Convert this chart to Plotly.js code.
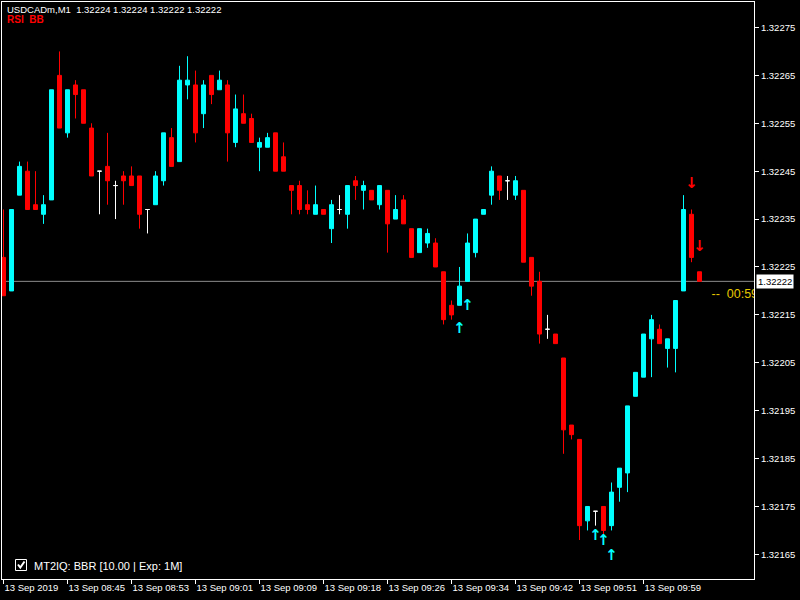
<!DOCTYPE html>
<html>
<head>
<meta charset="utf-8">
<script src="https://cdn.plot.ly/plotly-3.0.1.min.js"></script>
<style>html,body{margin:0;padding:0;background:#000;}#chart{width:800px;height:600px;}</style>
</head>
<body>
<div id="chart"></div>
<script>
// ---- data (USDCADm, M1) ----
const symbolName = "USDCADm,M1";
const indicatorLabel = "RSI  BB";
const panelLabel = "MT2IQ: BBR [10.00 | Exp: 1M]";
const timerLabel = "--\u00a0\u00a000:59";

const open = [
1.32227,1.32220,1.32240,1.32245,1.32238,1.32236,1.32239,1.32265,1.32253,1.32263,
1.32262,1.32254,1.32245,1.32246,1.32242,1.32244,1.32244,1.32244,1.32237,1.32238,
1.32243,1.32252,1.32247,1.32263,1.32263,1.32257,1.32265,1.32262,1.32263,1.32251,
1.32257,1.32256,1.32250,1.32250,1.32253,1.32248,1.32242,1.32242,1.32238,1.32236,
1.32237,1.32233,1.32237,1.32236,1.32243,1.32241,1.32241,1.32238,1.32241,1.32235,
1.32239,1.32233,1.32228,1.32230,1.32230,1.32224,1.32217,1.32217,1.32222,1.32228,
1.32236,1.32240,1.32244,1.32243,1.32240,1.32241,1.32227,1.32222,1.32212,1.32211,
1.32206,1.32192,1.32189,1.32172,1.32174,1.32175,1.32171,1.32179,1.32182,1.32198,
1.32202,1.32210,1.32212,1.32208,1.32208,1.32220,1.32236,1.32224];
const high = [
1.32237,1.32237,1.32247,1.32247,1.32245,1.32240,1.32262,1.32270,1.32262,1.32264,
1.32262,1.32255,1.32245,1.32253,1.32243,1.32245,1.32246,1.32244,1.32237,1.32245,
1.32253,1.32254,1.32267,1.32269,1.32266,1.32264,1.32265,1.32266,1.32264,1.32261,
1.32261,1.32257,1.32252,1.32253,1.32253,1.32251,1.32242,1.32243,1.32241,1.32242,
1.32237,1.32239,1.32240,1.32242,1.32244,1.32243,1.32241,1.32242,1.32241,1.32240,
1.32240,1.32233,1.32233,1.32233,1.32231,1.32224,1.32218,1.32225,1.32232,1.32235,
1.32237,1.32246,1.32244,1.32244,1.32244,1.32241,1.32227,1.32224,1.32215,1.32211,
1.32206,1.32192,1.32189,1.32175,1.32174,1.32175,1.32180,1.32183,1.32196,1.32203,
1.32211,1.32215,1.32213,1.32210,1.32218,1.32240,1.32237,1.32224];
const low = [
1.32219,1.32220,1.32240,1.32237,1.32237,1.32234,1.32239,1.32254,1.32252,1.32256,
1.32255,1.32244,1.32236,1.32238,1.32235,1.32238,1.32242,1.32233,1.32232,1.32238,
1.32242,1.32246,1.32247,1.32260,1.32251,1.32254,1.32259,1.32262,1.32247,1.32250,
1.32255,1.32251,1.32245,1.32250,1.32245,1.32245,1.32236,1.32236,1.32236,1.32236,
1.32236,1.32230,1.32236,1.32233,1.32239,1.32237,1.32239,1.32237,1.32228,1.32235,
1.32234,1.32227,1.32228,1.32229,1.32225,1.32213,1.32214,1.32217,1.32222,1.32227,
1.32236,1.32238,1.32239,1.32239,1.32239,1.32226,1.32219,1.32209,1.32210,1.32209,
1.32186,1.32189,1.32168,1.32170,1.32171,1.32169,1.32170,1.32176,1.32178,1.32198,
1.32202,1.32202,1.32209,1.32204,1.32203,1.32220,1.32226,1.32222];
const close = [
1.32219,1.32237,1.32246,1.32237,1.32237,1.32238,1.32262,1.32254,1.32262,1.32261,
1.32255,1.32244,1.32245,1.32243,1.32242,1.32243,1.32242,1.32236,1.32237,1.32244,
1.32253,1.32246,1.32264,1.32264,1.32253,1.32263,1.32261,1.32264,1.32253,1.32258,
1.32255,1.32251,1.32251,1.32252,1.32245,1.32245,1.32241,1.32237,1.32237,1.32238,
1.32236,1.32238,1.32237,1.32242,1.32242,1.32242,1.32239,1.32242,1.32234,1.32237,
1.32234,1.32227,1.32233,1.32232,1.32225,1.32214,1.32215,1.32221,1.32230,1.32235,
1.32237,1.32245,1.32241,1.32243,1.32243,1.32226,1.32221,1.32211,1.32212,1.32209,
1.32191,1.32190,1.32171,1.32175,1.32174,1.32170,1.32178,1.32183,1.32196,1.32203,
1.32211,1.32214,1.32209,1.32210,1.32218,1.32237,1.32227,1.32222];

// signal arrows (bar index, price)
const buyBars = [57, 58, 74, 75, 76];
const buyPrices = [1.322119, 1.322169, 1.321688, 1.321678, 1.321647];
const sellBars = [86, 87];
const sellPrices = [1.322423, 1.322292];

// time axis labels (every 8th bar)
const tickBars = [0, 8, 16, 24, 32, 40, 48, 56, 64, 72, 80];
const tickLabels = ["13 Sep 2019","13 Sep 08:45","13 Sep 08:53","13 Sep 09:01","13 Sep 09:09",
  "13 Sep 09:18","13 Sep 09:26","13 Sep 09:34","13 Sep 09:42","13 Sep 09:51","13 Sep 09:59"];
const priceTicks = [1.32165,1.32175,1.32185,1.32195,1.32205,1.32215,1.32225,1.32235,1.32245,1.32255,1.32265,1.32275];

// ---- build ----
const N = open.length;
const idx = open.map((_, i) => i);
function pick(cond) {
  const s = {x: [], o: [], h: [], l: [], c: []};
  idx.forEach(i => { if (cond(i)) { s.x.push(i); s.o.push(open[i]); s.h.push(high[i]); s.l.push(low[i]); s.c.push(close[i]); } });
  return s;
}
function candle(s, col) {
  return {type: 'candlestick', x: s.x, open: s.o, high: s.h, low: s.l, close: s.c,
    increasing: {line: {color: col, width: 1}, fillcolor: col},
    decreasing: {line: {color: col, width: 1}, fillcolor: col},
    whiskerwidth: 0, hoverinfo: 'skip', showlegend: false};
}
const bull = pick(i => close[i] > open[i]);
const bear = pick(i => close[i] < open[i]);
const doji = pick(i => close[i] === open[i]);

const FONT = "Liberation Sans, Arial, sans-serif";
const lastClose = close[N - 1];

const arrowFont = (c) => ({family: 'DejaVu Sans, sans-serif', size: 15, color: c, weight: 'bold'});
const traces = [
  candle(bull, '#00FFFF'),
  candle(bear, '#FF0000'),
  candle(doji, '#FFFFFF'),
  {type: 'scatter', mode: 'text', x: buyBars, y: buyPrices, text: buyBars.map(() => '\u2191'),
   textfont: arrowFont('#00FFFF'), textposition: 'middle center',
   hoverinfo: 'skip', showlegend: false},
  {type: 'scatter', mode: 'text', x: sellBars, y: sellPrices, text: sellBars.map(() => '\u2193'),
   textfont: arrowFont('#FF0000'), textposition: 'middle center',
   hoverinfo: 'skip', showlegend: false},
  {type: 'scatter', mode: 'text', x: [N - 1 + 1.5], y: [lastClose - 0.0000284], text: [timerLabel],
   textfont: {family: FONT, size: 12.5, color: '#E6C800'}, textposition: 'middle right', cliponaxis: true,
   hoverinfo: 'skip', showlegend: false}
];

// pixel helpers for decorations
const L = 2, R = 754, T = 2, B = 579;
const px = v => (v - L) / (R - L);
const py = v => (B - v) / (B - T);

const layout = {
  width: 800, height: 600,
  paper_bgcolor: '#000', plot_bgcolor: '#000',
  margin: {l: L, r: 800 - R, t: T, b: 600 - B, pad: 0},
  showlegend: false,
  boxgap: 0.2857, boxgroupgap: 0.3,
  xaxis: {
    range: [-0.1875, 93.8125], showgrid: false, zeroline: false,
    showline: true, linecolor: '#FFFFFF', linewidth: 1, mirror: true,
    ticks: 'outside', ticklen: 4, tickcolor: '#FFFFFF', tickwidth: 1,
    tickvals: tickBars, ticktext: tickLabels, ticklabelposition: 'outside right', tickangle: 0,
    tickfont: {family: FONT, size: 9.5, color: '#FFFFFF'},
    rangeslider: {visible: false}, fixedrange: true
  },
  yaxis: {
    side: 'right', range: [1.3215986, 1.3228032], showgrid: false, zeroline: false,
    showline: true, linecolor: '#FFFFFF', linewidth: 1, mirror: true,
    ticks: 'outside', ticklen: 4, tickcolor: '#FFFFFF', tickwidth: 1,
    tickvals: priceTicks, tickformat: '.5f',
    tickfont: {family: FONT, size: 9.5, color: '#FFFFFF'}, fixedrange: true
  },
  shapes: [
    {type: 'line', xref: 'paper', x0: 0, x1: 1, yref: 'y', y0: lastClose, y1: lastClose,
     line: {color: '#8C8C8C', width: 1}, layer: 'below'},
    {type: 'rect', xref: 'paper', yref: 'paper', x0: px(15.5), x1: px(26.5), y0: py(570.5), y1: py(559.5),
     line: {color: '#FFFFFF', width: 1}, fillcolor: '#000'},
    {type: 'path', xref: 'paper', yref: 'paper',
     path: 'M ' + px(18) + ' ' + py(564.5) + ' L ' + px(20.3) + ' ' + py(567.5) + ' L ' + px(24.5) + ' ' + py(561.5),
     line: {color: '#FFFFFF', width: 2}}
  ],
  annotations: [
    {xref: 'paper', yref: 'paper', x: px(5), y: py(9), xanchor: 'left', yanchor: 'middle', showarrow: false,
     text: symbolName + '\u00a0\u00a0' + [open[N-1], high[N-1], low[N-1], close[N-1]].map(v => v.toFixed(5)).join(' '),
     font: {family: FONT, size: 9.5, color: '#FFFFFF'}},
    {xref: 'paper', yref: 'paper', x: px(5), y: py(20), xanchor: 'left', yanchor: 'middle', showarrow: false,
     text: indicatorLabel.replace('  ', '\u00a0\u00a0'), font: {family: FONT, size: 10, color: '#FF0000', weight: 'bold'}},
    {xref: 'paper', yref: 'paper', x: px(32), y: py(566), xanchor: 'left', yanchor: 'middle', showarrow: false,
     text: panelLabel, font: {family: FONT, size: 11, color: '#FFFFFF'}},
    {xref: 'paper', yref: 'y', x: 1, y: lastClose, xanchor: 'left', yanchor: 'middle', xshift: 2, showarrow: false,
     text: lastClose.toFixed(5), bgcolor: '#FFFFFF', borderpad: 1,
     font: {family: FONT, size: 9.5, color: '#000000'}}
  ]
};

Plotly.newPlot('chart', traces, layout, {staticPlot: true, displayModeBar: false});
</script>
</body>
</html>
